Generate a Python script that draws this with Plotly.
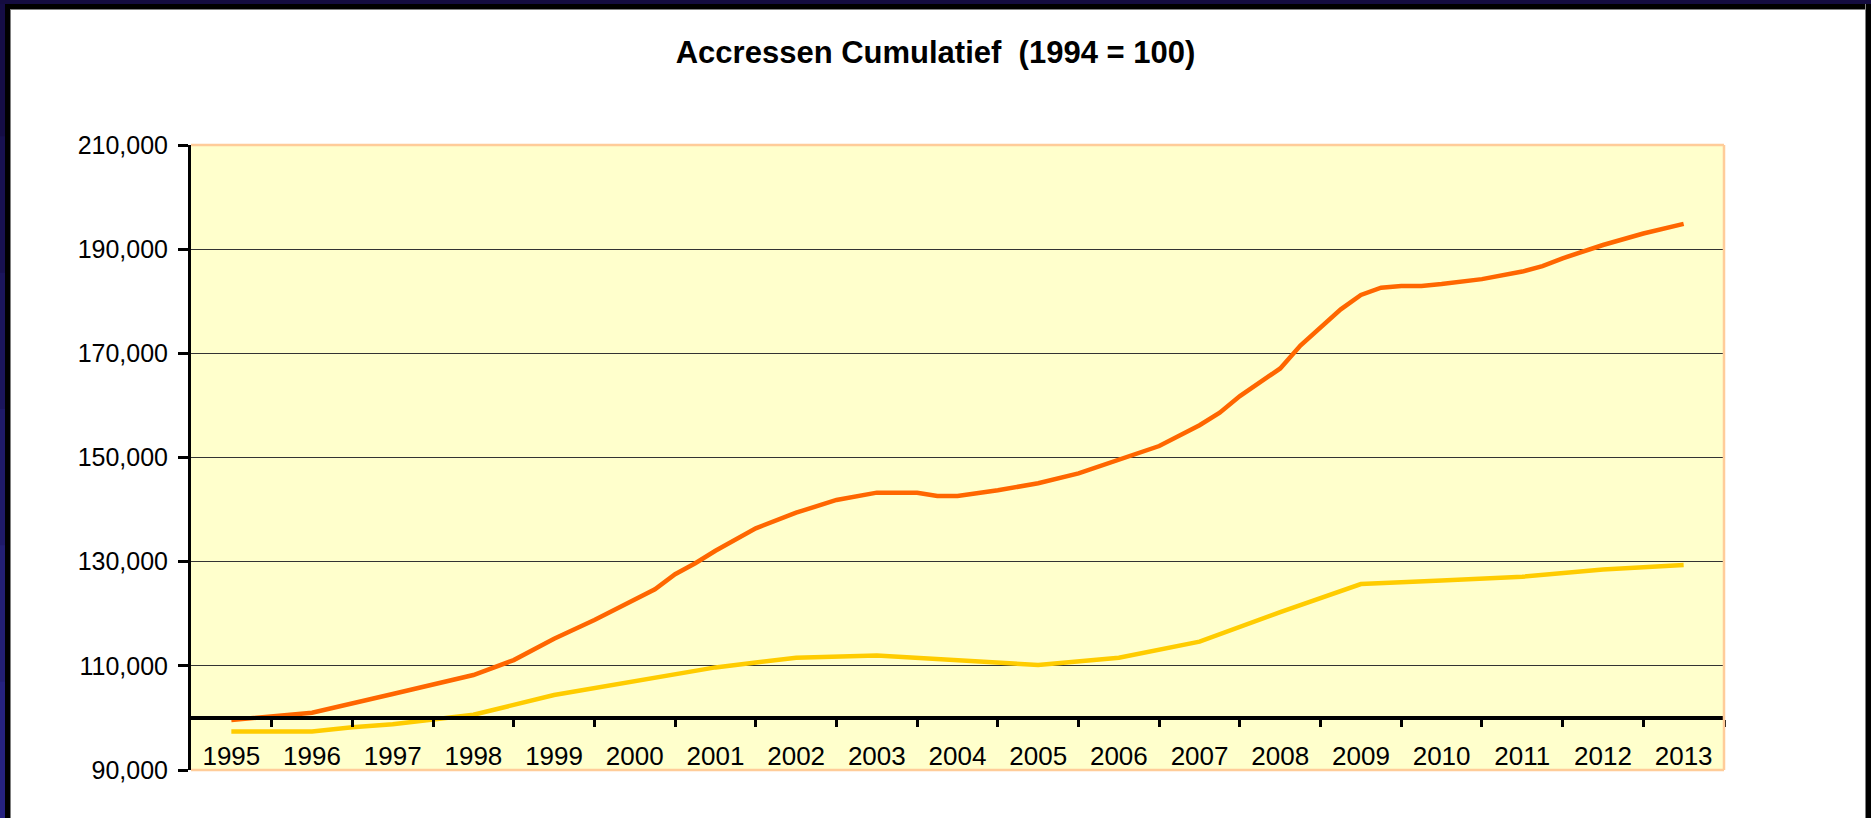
import plotly.graph_objects as go

# ---------------- data ----------------
year_labels = [str(y) for y in range(1995, 2014)]
year_pos = list(range(1995, 2014))
year_bounds = [y + 0.5 for y in range(1995, 2014)]

orange_t = [1995.0, 1996.0, 1997.0, 1998.0, 1998.5, 1999.0, 1999.5, 2000.0, 2000.25, 2000.5,
            2000.75, 2001.0, 2001.5, 2002.0, 2002.5, 2003.0, 2003.5, 2003.75, 2004.0, 2004.5,
            2005.0, 2005.5, 2006.0, 2006.5, 2007.0, 2007.25, 2007.5, 2008.0, 2008.25, 2008.75,
            2009.0, 2009.25, 2009.5, 2009.75, 2010.0, 2010.5, 2011.0, 2011.25, 2011.5, 2012.0,
            2012.5, 2013.0]
orange_v = [99600, 101000, 104600, 108240, 111100, 115200, 118800, 122700, 124700, 127600,
            129700, 132100, 136400, 139400, 141850, 143250, 143250, 142600, 142600, 143700,
            145050, 146950, 149650, 152200, 156200, 158600, 161800, 167100, 171500, 178450,
            181200, 182600, 182950, 182950, 183300, 184250, 185700, 186750, 188250, 190800,
            193000, 194850]

yellow_t = [1995.0, 1996.0, 1996.5, 1997.0, 1997.5, 1998.0, 1999.0, 2000.0, 2001.0, 2001.5,
            2002.0, 2003.0, 2004.0, 2004.5, 2005.0, 2006.0, 2007.0, 2008.0, 2009.0, 2010.0,
            2011.0, 2012.0, 2013.0]
yellow_v = [97400, 97400, 98200, 98800, 99700, 100600, 104400, 107100, 109700, 110650,
            111550, 112000, 111100, 110700, 110150, 111550, 114650, 120300, 125700, 126400,
            127100, 128500, 129350]

y_ticks = [90000, 110000, 130000, 150000, 170000, 190000, 210000]
y_min, y_max = 90000, 210000
x_cross = 100000

title_text = "Accressen Cumulatief \u00a0(1994 = 100)"

# ---------------- layout geometry ----------------
W, H = 1871, 818
L, R, T, B = 191, 147, 145, 48
FONT = "Liberation Sans, Arial, sans-serif"


def px(x):
    return (x - L) / (W - L - R)


def py(y):
    return (H - B - y) / (H - T - B)


fig = go.Figure()
fig.add_trace(go.Scatter(x=orange_t, y=orange_v, mode="lines",
                         line=dict(color="#FF6600", width=4.5), showlegend=False))
fig.add_trace(go.Scatter(x=yellow_t, y=yellow_v, mode="lines",
                         line=dict(color="#FFCC00", width=4.5), showlegend=False))

shapes = []


def rect(x0, y0, x1, y1, color):
    shapes.append(dict(type="rect", xref="paper", yref="paper",
                       x0=px(x0), x1=px(x1), y0=py(y1), y1=py(y0),
                       fillcolor=color, line=dict(width=0), layer="above"))


# outer frame
navy_cols = ["#150d45", "#181150", "#1b155c", "#1f1a68", "#231f74", "#262280"]
seg = H / len(navy_cols)
for i, c in enumerate(navy_cols):
    rect(0, i * seg, 5, (i + 1) * seg + 1, c)
rect(0, 0, W, 4, "#140c40")
rect(5, 4, 10, H, "#000000")
rect(5, 4, W, 9, "#000000")
rect(10, 9, W - 6, 10, "#808080")
rect(10, 9, 11, H, "#808080")
rect(W - 6, 4, W - 5, H, "#808080")
rect(W - 5, 4, W, H, "#000000")

# plot area border (peach) top, right, bottom
peach = "#FFCC99"
for (x0, y0, x1, y1) in [(0, 1, 1, 1), (1, 0, 1, 1), (0, 0, 1, 0)]:
    shapes.append(dict(type="line", xref="paper", yref="paper", x0=x0, y0=y0, x1=x1, y1=y1,
                       line=dict(color=peach, width=2.5), layer="above"))

fig.update_layout(
    width=W, height=H,
    margin=dict(l=L, r=R, t=T, b=B, pad=0),
    paper_bgcolor="white",
    plot_bgcolor="#FFFFCC",
    font=dict(family=FONT, color="black"),
    title=dict(text=title_text, x=0.5, xref="container", xanchor="center",
               y=1 - 52 / H, yref="container", yanchor="middle",
               font=dict(size=31, family=FONT, color="black", weight="bold")),
    xaxis=dict(range=[1994.5, 2013.5], tickmode="array", tickvals=year_pos, ticktext=year_labels,
               ticks="", showgrid=False, zeroline=False, automargin=False,
               showline=True, linecolor="black", linewidth=4,
               anchor="free", position=(x_cross - y_min) / (y_max - y_min),
               tickfont=dict(size=26, family=FONT, color="black"),
               ticklabelstandoff=14,
               minor=dict(tickmode="array", tickvals=year_bounds, ticks="outside", ticklen=7,
                          tickwidth=3, tickcolor="black", showgrid=False)),
    yaxis=dict(range=[y_min, y_max], tickmode="array", tickvals=y_ticks, tickformat=",d",
               ticks="outside", ticklen=10, tickwidth=3, tickcolor="black", automargin=False,
               showline=True, linecolor="black", linewidth=3,
               showgrid=True, gridcolor="#333333", gridwidth=1, zeroline=False,
               tickfont=dict(size=25, family=FONT, color="black"),
               ticklabelstandoff=5),
    shapes=shapes,
)

fig.write_html("out.html", config={"displayModeBar": False},
               post_script="document.body.style.margin='0';document.body.style.padding='0';")
